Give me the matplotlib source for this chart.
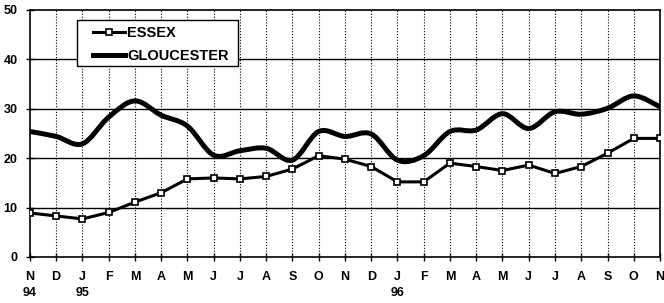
import matplotlib
matplotlib.use("Agg")
import matplotlib.pyplot as plt
import numpy as np
from matplotlib.path import Path
from matplotlib.patches import PathPatch, Rectangle
from matplotlib.lines import Line2D

months = ["N", "D", "J", "F", "M", "A", "M", "J", "J", "A", "S", "O", "N",
          "D", "J", "F", "M", "A", "M", "J", "J", "A", "S", "O", "N"]
years = {0: "94", 2: "95", 14: "96"}
essex = [8.9, 8.3, 7.7, 9.0, 11.1, 13.0, 15.8, 16.0, 15.8, 16.3, 17.8, 20.5, 19.8,
         18.3, 15.2, 15.2, 19.0, 18.3, 17.5, 18.6, 16.9, 18.3, 21.0, 24.0, 24.0]
gloucester = [25.4, 24.4, 22.9, 28.3, 31.6, 28.7, 26.5, 20.6, 21.5, 22.0, 19.6, 25.4, 24.4,
              24.9, 19.6, 20.5, 25.4, 25.7, 29.0, 26.0, 29.4, 28.9, 30.1, 32.6, 30.4]

plt.rcParams['font.family'] = ['Liberation Sans', 'DejaVu Sans']
plt.rcParams['font.weight'] = 'bold'

fig = plt.figure(figsize=(6.64, 3.03), dpi=100)
ax = fig.add_axes([0.045, 0.152, 0.949, 0.815])

x = np.arange(len(months))


def smooth_path(xs, ys, t=1/6):
    verts = [(xs[0], ys[0])]
    codes = [Path.MOVETO]
    n = len(xs)
    for i in range(n - 1):
        x0, y0 = xs[max(i - 1, 0)], ys[max(i - 1, 0)]
        x1, y1 = xs[i], ys[i]
        x2, y2 = xs[i + 1], ys[i + 1]
        x3, y3 = xs[min(i + 2, n - 1)], ys[min(i + 2, n - 1)]
        c1 = (x1 + (x2 - x0) * t, y1 + (y2 - y0) * t)
        c2 = (x2 - (x3 - x1) * t, y2 - (y3 - y1) * t)
        verts += [c1, c2, (x2, y2)]
        codes += [Path.CURVE4] * 3
    return Path(verts, codes)


# grid
for v in [10, 20, 30, 40]:
    ax.axhline(v, color='black', lw=1.0, zorder=1)
for xi in x[1:-1]:
    ax.axvline(xi, color='black', lw=0.8, ls=(0, (1, 1.6)), zorder=1)

ax.add_patch(PathPatch(smooth_path(x, gloucester), fill=False, edgecolor='black',
                       lw=3.6, capstyle='round', joinstyle='round', zorder=3))
ax.plot(x, essex, color='black', lw=2.2, marker='s', ms=4.5, mfc='white',
        mec='black', mew=1.2, solid_joinstyle='round', zorder=4)

ax.set_xlim(0, 24)
ax.set_ylim(0, 50)
ax.set_yticks([0, 10, 20, 30, 40, 50])
ax.set_xticks(x)
labels = [m + ("\n" + years[i] if i in years else "\n ") for i, m in enumerate(months)]
ax.set_xticklabels(labels, linespacing=1.5)
ax.tick_params(axis='x', direction='inout', length=6, width=1, pad=7, labelsize=9)
ax.tick_params(axis='y', direction='inout', length=6, width=1, pad=6, labelsize=9)
for lab in ax.get_xticklabels() + ax.get_yticklabels():
    lab.set_fontweight('bold')
for sp in ax.spines.values():
    sp.set_linewidth(1.2)
    sp.set_color('black')

# legend frame
frame = Rectangle((0.0746, 0.773), 0.2556, 0.187, transform=ax.transAxes,
                  facecolor='white', edgecolor='black', lw=1.0, zorder=5)
ax.add_patch(frame)

handles = [Line2D([], [], color='black', lw=2.2, marker='s', ms=4.5, mfc='white',
                  mec='black', mew=1.2),
           Line2D([], [], color='black', lw=3.6)]
leg = ax.legend(handles, ["ESSEX", "GLOUCESTER"], loc='upper left',
                bbox_to_anchor=(0.1, 0.935), frameon=False,
                prop={'weight': 'bold', 'size': 10.5},
                handlelength=2.2, handletextpad=0.15, borderpad=0,
                labelspacing=0.6, borderaxespad=0)
leg.set_zorder(6)

fig.savefig("out.png", dpi=100)
